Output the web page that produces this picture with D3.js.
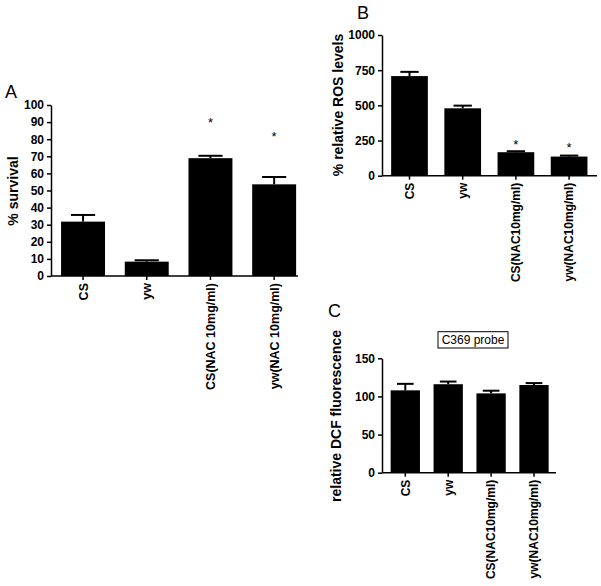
<!DOCTYPE html>
<html>
<head>
<meta charset="utf-8">
<script src="https://cdn.jsdelivr.net/npm/d3@7"></script>
<style>
  html, body { margin: 0; padding: 0; background: #fff; }
  svg { display: block; font-family: "Liberation Sans", Arial, sans-serif; }
</style>
</head>
<body>
<svg id="chart" width="601" height="586"></svg>
<script>
// ---------- data ----------
const categoriesA = ["CS", "yw", "CS(NAC 10mg/ml)", "yw(NAC 10mg/ml)"];
const valuesA = [31.8, 8.4, 68.9, 53.6];
const errorsA = [3.9, 0.8, 1.4, 4.3];
const starsA = [null, null, 91.8, 83.6];
const ticksA = [0, 10, 20, 30, 40, 50, 60, 70, 80, 90, 100];

const categoriesB = ["CS", "yw", "CS(NAC10mg/ml)", "yw(NAC10mg/ml)"];
const valuesB = [708, 479, 167, 136];
const errorsB = [30, 19, 7, 7];
const starsB = [null, null, 241, 225];
const ticksB = [0, 250, 500, 750, 1000];

const categoriesC = ["CS", "yw", "CS(NAC10mg/ml)", "yw(NAC10mg/ml)"];
const valuesC = [108, 116, 104, 115];
const errorsC = [8.5, 3.5, 3.5, 2.5];
const ticksC = [0, 50, 100, 150];

// ---------- drawing ----------
const svg = d3.select("#chart");
const FONT = "'Liberation Sans', Arial, sans-serif";

function panel(opt) {
  const g = svg.append("g");
  const x = d3.scaleBand().domain(opt.categories)
    .range([opt.x0, opt.x1]).paddingInner(opt.pad).paddingOuter(opt.pad / 2);
  const y = d3.scaleLinear().domain([0, opt.ymax]).range([opt.yBottom, opt.yTop]);

  // bars
  g.selectAll("rect.bar").data(opt.values).join("rect")
    .attr("class", "bar")
    .attr("x", (d, i) => x(opt.categories[i]))
    .attr("width", x.bandwidth())
    .attr("y", d => y(d))
    .attr("height", d => y(0) - y(d))
    .attr("fill", "#000");

  // error bars (upper)
  const capW = x.bandwidth() * opt.cap;
  opt.values.forEach((v, i) => {
    const cx = x(opt.categories[i]) + x.bandwidth() / 2;
    g.append("line").attr("x1", cx).attr("x2", cx)
      .attr("y1", y(v)).attr("y2", y(v + opt.errors[i]))
      .attr("stroke", "#000").attr("stroke-width", 2);
    g.append("line").attr("x1", cx - capW / 2).attr("x2", cx + capW / 2)
      .attr("y1", y(v + opt.errors[i])).attr("y2", y(v + opt.errors[i]))
      .attr("stroke", "#000").attr("stroke-width", 2);
  });

  // stars
  if (opt.stars) {
    opt.stars.forEach((s, i) => {
      if (s == null) return;
      const cx = x(opt.categories[i]) + x.bandwidth() / 2;
      g.append("text").attr("x", cx).attr("y", y(s) + 7.5)
        .attr("text-anchor", "middle").attr("font-size", 13).text("*");
    });
  }

  // y axis
  const ya = g.append("g").attr("transform", `translate(${opt.axisX},0)`)
    .call(d3.axisLeft(y).tickValues(opt.ticks).tickFormat(d3.format("d"))
      .tickSize(4).tickPadding(3).tickSizeOuter(0));
  ya.select(".domain").attr("stroke-width", 1.5);
  ya.selectAll(".tick line").attr("stroke-width", 1.5);
  ya.selectAll(".tick text").attr("font-size", 12).attr("font-weight", "bold")
    .attr("font-family", FONT).attr("fill", "#000");

  // x axis
  const xa = g.append("g").attr("transform", `translate(0,${opt.yBottom})`)
    .call(d3.axisBottom(x).tickSize(4).tickPadding(3).tickSizeOuter(0));
  xa.select(".domain").remove();
  xa.selectAll(".tick line").attr("stroke-width", 1.5);
  xa.selectAll(".tick text")
    .attr("font-size", opt.xFont).attr("font-weight", "bold")
    .attr("font-family", FONT).attr("fill", "#000")
    .attr("transform", "rotate(-90)")
    .attr("text-anchor", "end")
    .attr("x", -7).attr("y", 0).attr("dy", "0.36em");
  g.append("line").attr("x1", opt.axisX).attr("x2", opt.axisEnd)
    .attr("y1", opt.yBottom).attr("y2", opt.yBottom)
    .attr("stroke", "#000").attr("stroke-width", 1.5);

  // y label
  g.append("text")
    .attr("transform", `translate(${opt.labelX},${opt.labelY}) rotate(-90)`)
    .attr("text-anchor", "middle").attr("dy", "0.36em")
    .attr("font-size", 14).attr("font-weight", "bold").text(opt.ylabel);

  // panel letter
  g.append("text").attr("x", opt.letterX).attr("y", opt.letterY)
    .attr("font-size", 18).text(opt.letter);
  return { g, x, y };
}

panel({
  categories: categoriesA, values: valuesA, errors: errorsA, stars: starsA, ticks: ticksA,
  ymax: 100, x0: 51.2, x1: 306, pad: 0.31, cap: 0.55,
  yBottom: 276, yTop: 105, axisX: 51, axisEnd: 298, xFont: 12.5,
  ylabel: "% survival", labelX: 13, labelY: 191,
  letter: "A", letterX: 5, letterY: 98
});

panel({
  categories: categoriesB, values: valuesB, errors: errorsB, stars: starsB, ticks: ticksB,
  ymax: 1000, x0: 382.9, x1: 595.7, pad: 0.31, cap: 0.5,
  yBottom: 175.7, yTop: 35, axisX: 382, axisEnd: 597, xFont: 12,
  ylabel: "% relative ROS levels", labelX: 338, labelY: 105,
  letter: "B", letterX: 357, letterY: 19
});

const pc = panel({
  categories: categoriesC, values: valuesC, errors: errorsC, stars: null, ticks: ticksC,
  ymax: 150, x0: 383.85, x1: 555.45, pad: 0.317, cap: 0.57,
  yBottom: 472.7, yTop: 358.3, axisX: 382, axisEnd: 556, xFont: 12,
  ylabel: "relative DCF fluorescence", labelX: 336, labelY: 416,
  letter: "C", letterX: 328, letterY: 317
});

// probe legend box in panel C
pc.g.append("rect").attr("x", 438).attr("y", 331.7).attr("width", 70).attr("height", 16.3)
  .attr("fill", "none").attr("stroke", "#000").attr("stroke-width", 1);
pc.g.append("text").attr("x", 473).attr("y", 343.5).attr("text-anchor", "middle")
  .attr("font-size", 12).text("C369 probe");
</script>
</body>
</html>
